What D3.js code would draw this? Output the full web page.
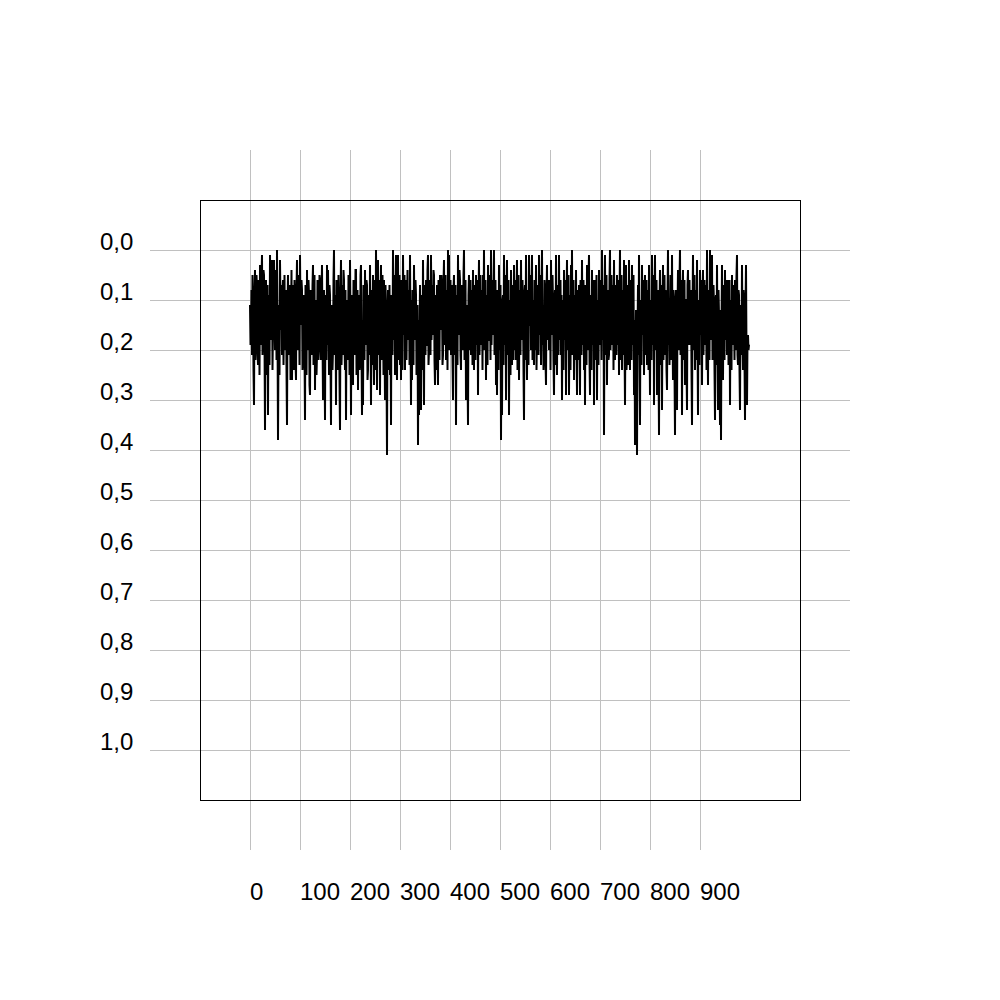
<!DOCTYPE html>
<html>
<head>
<meta charset="utf-8">
<script src="https://cdn.jsdelivr.net/npm/d3@7"></script>
<style>
  html, body { margin: 0; padding: 0; background: #fff; }
  svg { display: block; }
  text { font-family: "Liberation Sans", Arial, sans-serif; font-size: 24px; fill: #000; }
</style>
</head>
<body>
<svg id="chart" width="1000" height="1000"></svg>
<script>
// X tick labels / gridline positions, Y ticks
const xTickLabels = [0, 100, 200, 300, 400, 500, 600, 700, 800, 900];
const yTickValues = [0, 0.1, 0.2, 0.3, 0.4, 0.5, 0.6, 0.7, 0.8, 0.9, 1.0];

// Series: one value per sample index (x = index)
const seriesValues = [
  0.11,0.19,0.18,0.08,0.21,0.05,0.12,0.24,0.31,0.09,0.04,0.22,0.17,0.05,0.08,0.20,0.23,0.06,0.10,0.25,
  0.03,0.12,0.19,0.06,0.01,0.21,0.14,0.04,0.05,0.18,0.36,0.10,0.06,0.25,0.22,0.07,0.33,0.12,0.09,0.23,
  0.01,0.10,0.18,0.05,0.02,0.24,0.15,0.06,0.02,0.13,0.20,0.04,0.07,0.22,0.00,0.15,0.38,0.19,0.11,0.25,
  0.02,0.11,0.16,0.07,0.21,0.09,0.06,0.23,0.14,0.05,0.20,0.10,0.08,0.24,0.35,0.12,0.05,0.21,0.19,0.07,
  0.09,0.26,0.17,0.04,0.26,0.11,0.07,0.18,0.24,0.06,0.12,0.22,0.26,0.08,0.02,0.20,0.18,0.05,0.10,0.23,
  0.01,0.12,0.15,0.06,0.08,0.24,0.22,0.09,0.11,0.20,0.34,0.07,0.13,0.25,0.04,0.16,0.20,0.06,0.09,0.27,
  0.29,0.08,0.12,0.21,0.18,0.07,0.03,0.23,0.16,0.05,0.28,0.13,0.10,0.25,0.21,0.06,0.09,0.22,0.19,0.05,
  0.06,0.18,0.22,0.10,0.03,0.17,0.30,0.12,0.08,0.21,0.34,0.09,0.14,0.22,0.03,0.19,
  0.04,0.14,0.25,0.07,0.09,0.22,0.35,0.11,0.12,0.24,0.20,0.06,0.00,0.21,0.17,0.09,0.31,0.06,0.08,0.24,
  0.22,0.05,0.13,0.26,0.36,0.10,0.02,0.23,0.18,0.07,0.21,0.04,0.06,0.19,0.24,0.08,0.34,0.15,0.10,0.22,
  0.19,0.05,0.07,0.25,0.02,0.14,0.33,0.09,0.11,0.23,0.27,0.06,0.08,0.21,0.20,0.04,0.04,0.25,0.16,0.08,
  0.28,0.12,0.09,0.24,0.22,0.05,0.03,0.20,0.33,0.14,0.31,0.07,0.12,0.22,0.04,0.17,0.19,0.06,0.07,0.26,
  0.24,0.09,0.10,0.21,0.03,0.15,0.31,0.08,0.14,0.23,0.05,0.19,0.27,0.06,0.11,0.24,0.00,0.12,0.28,0.10,
  0.02,0.21,0.17,0.06,0.29,0.11,0.03,0.22,0.15,0.05,0.13,0.25,0.06,0.18,0.30,0.07,0.12,0.23,0.41,0.14,
  0.08,0.24,0.19,0.07,0.25,0.12,0.35,0.09,0.10,0.21,0.00,0.18,0.16,0.05,0.25,0.10,0.01,0.20,0.26,0.07,
  0.01,0.22,0.14,0.05,0.23,0.11,0.26,0.06,0.09,0.24,0.01,0.13,0.17,0.05,0.24,0.10,0.06,0.22,0.12,0.04,
  0.18,0.09,0.08,0.23,0.01,0.17,
  0.31,0.10,0.26,0.08,0.12,0.23,0.03,0.15,0.18,0.06,0.09,0.25,0.22,0.11,0.39,0.14,0.33,0.18,0.07,0.22,
  0.32,0.09,0.11,0.24,0.02,0.16,0.31,0.07,0.14,0.21,0.06,0.19,0.19,0.04,0.01,0.23,0.20,0.06,0.08,0.21,
  0.01,0.18,0.13,0.07,0.17,0.04,0.05,0.22,0.27,0.09,0.12,0.24,0.07,0.19,0.27,0.06,0.10,0.22,0.05,0.14,
  0.16,0.05,0.09,0.23,0.21,0.07,0.02,0.19,0.17,0.05,0.22,0.09,0.08,0.24,0.00,0.16,0.01,0.20,0.14,0.06,
  0.21,0.10,0.07,0.22,0.30,0.08,0.05,0.21,0.18,0.07,0.35,0.13,0.09,0.23,0.01,0.17,0.15,0.04,0.06,0.21,
  0.24,0.07,0.10,0.20,0.19,0.05,0.00,0.22,0.17,0.06,0.30,0.11,0.12,0.24,0.35,0.09,0.05,0.20,0.16,0.06,
  0.21,0.08,0.09,0.23,0.04,0.17,0.24,0.07,0.11,0.22,0.05,0.19,0.18,0.06,0.29,0.10,0.02,0.21,0.14,0.05,
  0.19,0.09,0.08,0.24,0.05,0.15,0.00,0.20,0.15,0.06,0.26,0.09,0.10,0.23,0.03,0.18,0.18,0.05,0.07,0.22,
  0.00,0.19,0.12,0.06,0.17,0.08,
  0.00,0.21,0.14,0.06,0.27,0.12,0.29,0.08,0.11,0.24,0.03,0.17,0.20,0.07,0.38,0.15,0.33,0.10,0.09,0.23,
  0.01,0.19,0.16,0.05,0.30,0.12,0.02,0.21,0.13,0.06,0.33,0.14,0.10,0.25,0.04,0.18,0.23,0.07,0.09,0.22,
  0.03,0.20,0.15,0.06,0.22,0.09,0.02,0.24,0.12,0.05,0.26,0.10,0.08,0.21,0.02,0.16,0.18,0.06,0.11,0.24,
  0.34,0.09,0.07,0.22,0.01,0.18,0.26,0.08,0.12,0.23,0.01,0.15,0.15,0.05,0.20,0.09,0.01,0.22,0.10,0.19,
  0.23,0.06,0.07,0.20,0.03,0.24,0.17,0.07,0.09,0.21,0.01,0.17,0.14,0.05,0.23,0.10,0.00,0.19,0.11,0.24,
  0.20,0.06,0.08,0.22,0.27,0.09,0.03,0.18,0.13,0.06,0.20,0.08,0.06,0.24,0.02,0.15,0.17,0.05,0.10,0.22,
  0.29,0.11,0.08,0.23,0.01,0.16,0.25,0.07,0.12,0.21,0.01,0.18,0.16,0.06,0.21,0.09,0.30,0.12,0.10,0.24,
  0.04,0.17,0.18,0.06,0.29,0.10,0.02,0.20,0.14,0.05,0.29,0.13,0.09,0.24,0.03,0.16,0.00,0.21,0.15,0.06,
  0.26,0.09,0.11,0.22,0.04,0.18,
  0.29,0.08,0.12,0.22,0.07,0.18,0.29,0.06,0.14,0.21,0.02,0.19,0.17,0.06,0.24,0.10,0.31,0.07,0.10,0.23,
  0.03,0.20,0.16,0.06,0.01,0.22,0.29,0.09,0.13,0.24,0.04,0.17,0.19,0.06,0.31,0.11,0.06,0.22,0.15,0.05,
  0.30,0.10,0.11,0.23,0.04,0.19,0.17,0.06,0.09,0.22,0.00,0.18,0.14,0.07,0.37,0.12,0.01,0.21,0.12,0.05,
  0.27,0.09,0.08,0.22,0.21,0.06,0.00,0.20,0.13,0.05,0.19,0.08,0.07,0.24,0.02,0.17,0.22,0.07,0.10,0.21,
  0.05,0.19,0.16,0.06,0.25,0.10,0.00,0.22,0.12,0.05,0.24,0.09,0.08,0.21,0.02,0.18,0.31,0.12,0.03,0.24,
  0.21,0.07,0.10,0.23,0.02,0.16,0.24,0.06,0.09,0.22,0.03,0.19,0.15,0.05,0.29,0.14,0.39,0.20,0.12,0.24,
  0.41,0.17,0.07,0.21,0.01,0.18,0.35,0.10,0.11,0.23,0.03,0.15,0.17,0.06,0.25,0.09,0.05,0.21,0.14,0.06,
  0.23,0.08,0.09,0.24,0.03,0.17,0.29,0.10,0.12,0.22,0.01,0.19,0.18,0.05,0.31,0.11,0.01,0.20,0.13,0.06,
  0.29,0.14,0.08,0.22,0.37,0.12,
  0.04,0.23,0.20,0.07,0.32,0.11,0.03,0.22,0.13,0.05,0.21,0.08,0.09,0.24,0.28,0.10,0.00,0.19,0.11,0.23,
  0.15,0.05,0.07,0.22,0.01,0.17,0.26,0.08,0.12,0.24,0.37,0.10,0.08,0.21,0.32,0.12,0.04,0.20,0.17,0.06,
  0.00,0.21,0.14,0.06,0.33,0.09,0.04,0.22,0.13,0.06,0.27,0.10,0.10,0.23,0.32,0.07,0.04,0.19,0.15,0.06,
  0.19,0.09,0.08,0.24,0.35,0.12,0.01,0.20,0.12,0.05,0.24,0.08,0.09,0.22,0.02,0.18,0.33,0.10,0.11,0.23,
  0.04,0.17,0.16,0.06,0.27,0.09,0.04,0.21,0.12,0.06,0.19,0.08,0.07,0.24,0.00,0.16,0.27,0.08,0.10,0.22,
  0.00,0.18,0.15,0.05,0.01,0.22,0.21,0.07,0.11,0.24,0.34,0.10,0.09,0.23,0.03,0.19,0.32,0.08,0.13,0.22,
  0.35,0.12,0.38,0.15,0.03,0.20,0.26,0.07,0.10,0.22,0.04,0.18,0.15,0.06,0.21,0.09,0.06,0.23,0.17,0.06,
  0.31,0.12,0.10,0.24,0.05,0.19,0.18,0.07,0.12,0.22,0.06,0.20,0.16,0.05,0.01,0.21,0.23,0.08,0.09,0.24,
  0.32,0.11,0.12,0.21,0.03,0.17,0.24,0.08,0.10,0.22,0.34,0.12,0.03,0.21,0.31,0.18,0.17,0.20,0.19,0.19
];

const svg = d3.select("#chart");
const x = d3.scaleLinear().domain([0, 1200]).range([250, 850]);
const y = d3.scaleLinear().domain([0, 1]).range([250, 750]);
const fmt = v => d3.format(".1f")(v).replace(".", ",");

// Vertical grid
svg.append("g").selectAll("line").data(xTickLabels).join("line")
  .attr("x1", d => x(d) + 0.5).attr("x2", d => x(d) + 0.5)
  .attr("y1", 150).attr("y2", 850)
  .attr("stroke", "#c0c0c0").attr("stroke-width", 1);

// Horizontal grid
svg.append("g").selectAll("line").data(yTickValues).join("line")
  .attr("x1", 150).attr("x2", 850)
  .attr("y1", d => y(d) + 0.5).attr("y2", d => y(d) + 0.5)
  .attr("stroke", "#c0c0c0").attr("stroke-width", 1);

// Frame
svg.append("rect").attr("x", 200.5).attr("y", 200.5).attr("width", 600).attr("height", 600)
  .attr("fill", "none").attr("stroke", "#000").attr("stroke-width", 1);

// Y labels
svg.append("g").selectAll("text").data(yTickValues).join("text")
  .attr("x", 100).attr("y", d => y(d))
  .text(d => fmt(d));

// X labels
svg.append("g").selectAll("text").data(xTickLabels).join("text")
  .attr("x", d => x(d)).attr("y", 900)
  .text(d => d);

// Data line
const line = d3.line().x((d, i) => x(i)).y(d => y(d));
svg.append("path").datum(seriesValues)
  .attr("d", line)
  .attr("fill", "none").attr("stroke", "#000").attr("stroke-width", 2)
  .attr("stroke-linejoin", "miter");
</script>
</body>
</html>
